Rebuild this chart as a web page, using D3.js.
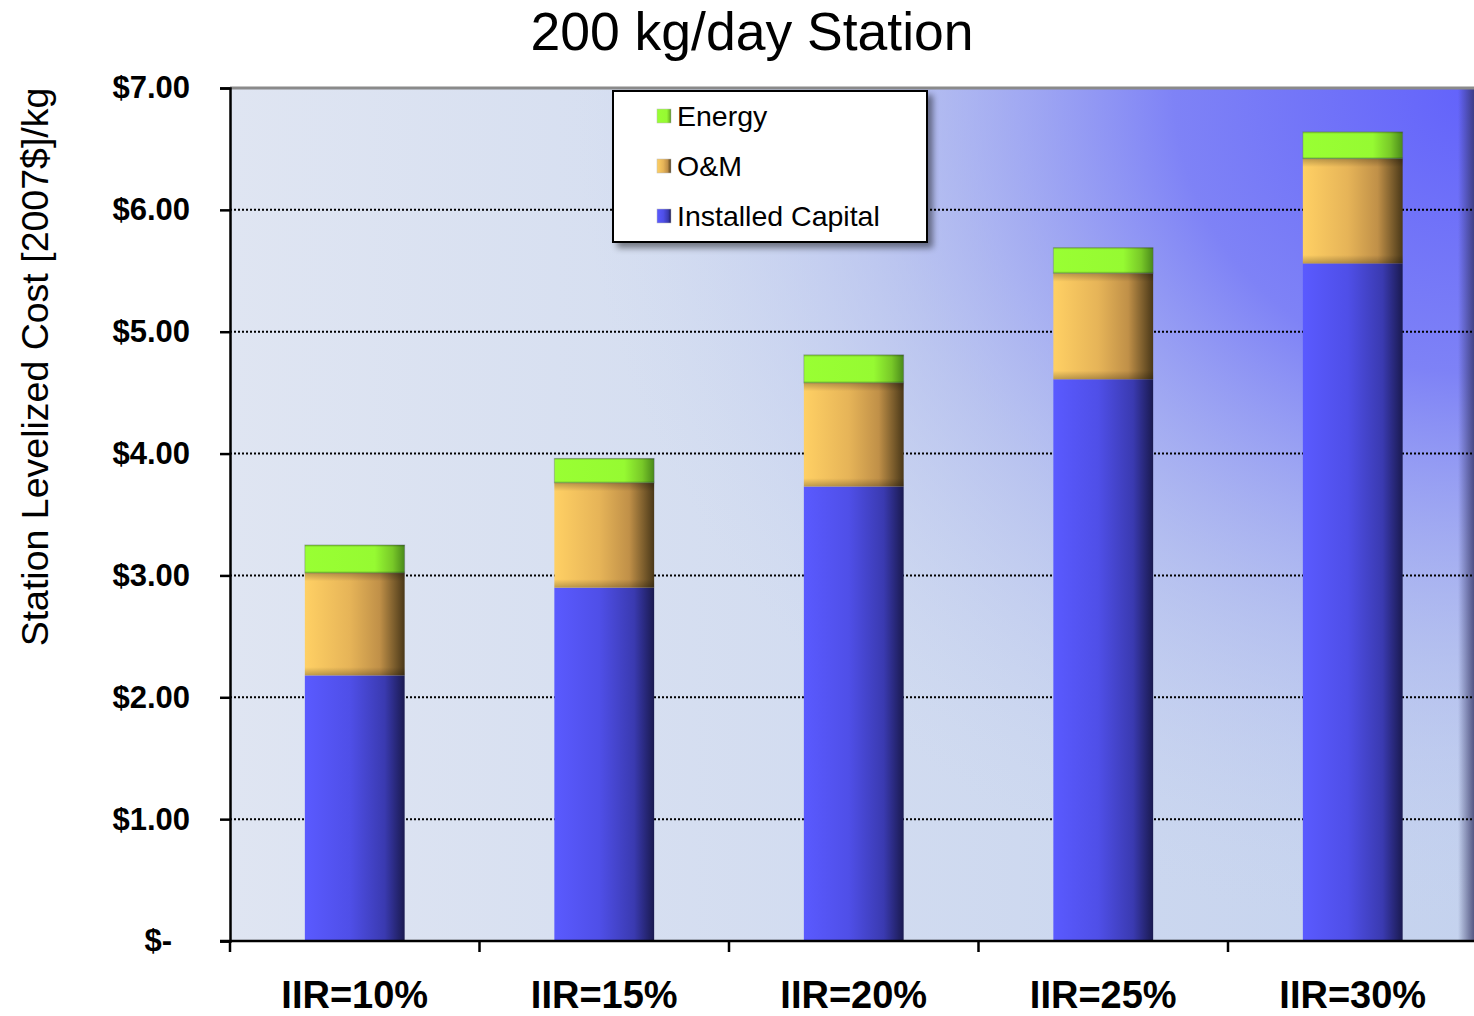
<!DOCTYPE html>
<html>
<head>
<meta charset="utf-8">
<script src="https://cdn.jsdelivr.net/npm/d3@7"></script>
<style>
  body { margin: 0; background: #fff; }
  svg { display: block; font-family: "Liberation Sans", Arial, sans-serif; }
</style>
</head>
<body>
<svg id="chart" width="1474" height="1016"></svg>
<script>
// data
const categories = ['IIR=10%', 'IIR=15%', 'IIR=20%', 'IIR=25%', 'IIR=30%'];
const installedCapital = [2.18, 2.90, 3.73, 4.61, 5.56];
const oAndM = [0.84, 0.86, 0.85, 0.87, 0.86];
const energy = [0.23, 0.20, 0.23, 0.21, 0.22];
const seriesNames = ['Installed Capital', 'O&M', 'Energy'];
const yTickValues = [0, 1, 2, 3, 4, 5, 6, 7];

const svg = d3.select('#chart');
const defs = svg.append('defs');

// plot box
const plotLeft = 230, plotTop = 88, plotBottom = 941, plotRight = 1477.5;

const x = d3.scaleBand()
    .domain(categories)
    .range([plotLeft, plotRight])
    .paddingInner(0.6)
    .paddingOuter(0.3);

const y = d3.scaleLinear()
    .domain([0, 7])
    .range([plotBottom, plotTop]);

// gradients
function hGrad(id, stops) {
    const g = defs.append('linearGradient').attr('id', id)
        .attr('x1', 0).attr('x2', 1).attr('y1', 0).attr('y2', 0);
    stops.forEach(s => g.append('stop').attr('offset', s[0]).attr('stop-color', s[1])
        .attr('stop-opacity', s[2] === undefined ? 1 : s[2]));
}
hGrad('g-cap', [[0, '#5a5aff'], [0.45, '#4f4fe8'], [0.8, '#3a3ab0'], [1, '#1a1a50']]);
hGrad('g-om', [[0, '#ffd064'], [0.45, '#e6b458'], [0.75, '#c09048'], [0.9, '#7a5c2c'], [1, '#4a3818']]);
hGrad('g-en', [[0, '#99ff33'], [0.7, '#96fa32'], [0.88, '#78c828'], [1, '#4a8a1a']]);
hGrad('g-bg', [[0, '#dfe5f2'], [1, '#c4d2ee']]);
hGrad('g-edge', [[0, '#303060', 0], [1, '#303060', 0.75]]);

const vg = defs.append('linearGradient').attr('id', 'g-vshade')
    .attr('x1', 0).attr('x2', 0).attr('y1', 0).attr('y2', 1);
[[0, 0.25], [0.08, 0], [0.92, 0], [1, 0.25]].forEach(s =>
    vg.append('stop').attr('offset', s[0]).attr('stop-color', '#000').attr('stop-opacity', s[1]));

const rg = defs.append('radialGradient').attr('id', 'g-glow')
    .attr('gradientUnits', 'userSpaceOnUse')
    .attr('cx', 1474).attr('cy', 88).attr('r', 1000)
    .attr('gradientTransform', 'translate(1474,88) scale(1,0.95) translate(-1474,-88)');
[[0, '#6262fb', 1], [0.3, '#7679f7', 0.9], [0.6, '#a4aef0', 0.5], [0.9, '#c8d4f0', 0]].forEach(s =>
    rg.append('stop').attr('offset', s[0]).attr('stop-color', s[1]).attr('stop-opacity', s[2]));

const shadow = defs.append('filter').attr('id', 'shadow')
    .attr('x', '-10%').attr('y', '-10%').attr('width', '130%').attr('height', '130%');
shadow.append('feDropShadow').attr('dx', 5).attr('dy', 5).attr('stdDeviation', 3)
    .attr('flood-color', '#000').attr('flood-opacity', 0.45);

// plot background
svg.append('rect').attr('x', plotLeft).attr('y', plotTop)
    .attr('width', plotRight - plotLeft).attr('height', plotBottom - plotTop).attr('fill', 'url(#g-bg)');
svg.append('rect').attr('x', plotLeft).attr('y', plotTop)
    .attr('width', plotRight - plotLeft).attr('height', plotBottom - plotTop).attr('fill', 'url(#g-glow)');
svg.append('rect').attr('x', 1458).attr('y', plotTop)
    .attr('width', 1474 - 1458).attr('height', plotBottom - plotTop).attr('fill', 'url(#g-edge)');
svg.append('line').attr('x1', plotLeft).attr('x2', plotRight).attr('y1', plotTop).attr('y2', plotTop)
    .attr('stroke', '#8a8a8a').attr('stroke-width', 3);

// dotted gridlines
svg.append('g').selectAll('line')
    .data(yTickValues.filter(d => d > 0 && d < 7))
    .enter().append('line')
    .attr('x1', plotLeft).attr('x2', plotRight)
    .attr('y1', d => y(d)).attr('y2', d => y(d))
    .attr('stroke', '#000').attr('stroke-width', 2)
    .attr('stroke-dasharray', '2,2');

// stacked bars
const rows = categories.map((c, i) => ({
    cat: c,
    'Installed Capital': installedCapital[i],
    'O&M': oAndM[i],
    'Energy': energy[i]
}));
const stacked = d3.stack().keys(seriesNames)(rows);
const fills = { 'Installed Capital': 'url(#g-cap)', 'O&M': 'url(#g-om)', 'Energy': 'url(#g-en)' };

stacked.forEach(layer => {
    const g = svg.append('g').attr('class', 'layer');
    g.selectAll('rect.seg')
        .data(layer)
        .enter().append('rect')
        .attr('class', 'seg')
        .attr('x', d => x(d.data.cat))
        .attr('y', d => y(d[1]))
        .attr('width', x.bandwidth())
        .attr('height', d => y(d[0]) - y(d[1]))
        .attr('fill', fills[layer.key])
        .attr('stroke', layer.key === 'Energy' ? 'rgba(90,90,120,0.35)' : 'none')
        .attr('stroke-width', 1);
    if (layer.key !== 'Installed Capital') {
        g.selectAll('rect.shade')
            .data(layer)
            .enter().append('rect')
            .attr('class', 'shade')
            .attr('x', d => x(d.data.cat))
            .attr('y', d => y(d[1]))
            .attr('width', x.bandwidth())
            .attr('height', d => y(d[0]) - y(d[1]))
            .attr('fill', 'url(#g-vshade)');
    }
});

// axes
const yAxis = d3.axisLeft(y)
    .tickValues(yTickValues)
    .tickSize(10)
    .tickPadding(30)
    .tickFormat(d => d === 0 ? '$-' : '$' + d.toFixed(2));
const yg = svg.append('g').attr('transform', `translate(${plotLeft},0)`).call(yAxis);
yg.select('.domain').attr('stroke', '#000').attr('stroke-width', 2.5);
yg.selectAll('.tick line').attr('stroke', '#000').attr('stroke-width', 2.5);
yg.selectAll('.tick text')
    .attr('fill', '#000')
    .style('font-size', '31px')
    .style('font-weight', 'bold')
    .style('font-family', '"Liberation Sans", Arial, sans-serif')
    .attr('dx', d => d === 0 ? -18 : 0);

const bottomG = svg.append('g');
bottomG.append('line').attr('x1', plotLeft - 10).attr('x2', plotRight)
    .attr('y1', plotBottom).attr('y2', plotBottom).attr('stroke', '#000').attr('stroke-width', 2.5);
bottomG.selectAll('line.tk')
    .data(categories)
    .enter().append('line')
    .attr('class', 'tk')
    .attr('x1', d => x(d) - x.step() * 0.3).attr('x2', d => x(d) - x.step() * 0.3)
    .attr('y1', plotBottom).attr('y2', plotBottom + 11)
    .attr('stroke', '#000').attr('stroke-width', 2.5);
bottomG.selectAll('text')
    .data(categories)
    .enter().append('text')
    .attr('x', d => x(d) + x.bandwidth() / 2)
    .attr('y', 1008)
    .attr('text-anchor', 'middle')
    .style('font-size', '38px')
    .style('font-weight', 'bold')
    .text(d => d);

// titles
svg.append('text')
    .attr('x', 752).attr('y', 50)
    .attr('text-anchor', 'middle')
    .style('font-size', '53.5px')
    .text('200 kg/day Station');

svg.append('text')
    .attr('transform', 'translate(48,367) rotate(-90)')
    .attr('text-anchor', 'middle')
    .style('font-size', '37.5px')
    .text('Station Levelized Cost [2007$]/kg');

// legend
const legend = svg.append('g').attr('transform', 'translate(613,91)');
legend.append('rect')
    .attr('width', 314).attr('height', 151)
    .attr('fill', '#fff').attr('stroke', '#000').attr('stroke-width', 2)
    .attr('filter', 'url(#shadow)');
const legendItems = seriesNames.slice().reverse();
const li = legend.selectAll('g.item')
    .data(legendItems)
    .enter().append('g')
    .attr('class', 'item')
    .attr('transform', (d, i) => `translate(44,${25 + i * 50})`);
li.append('rect')
    .attr('x', 0).attr('y', -7).attr('width', 14).attr('height', 14)
    .attr('fill', d => fills[d])
    .attr('stroke', '#bbb').attr('stroke-width', 0.5);
li.append('text')
    .attr('x', 20).attr('y', 10)
    .style('font-size', '28.5px')
    .text(d => d);
</script>
</body>
</html>
